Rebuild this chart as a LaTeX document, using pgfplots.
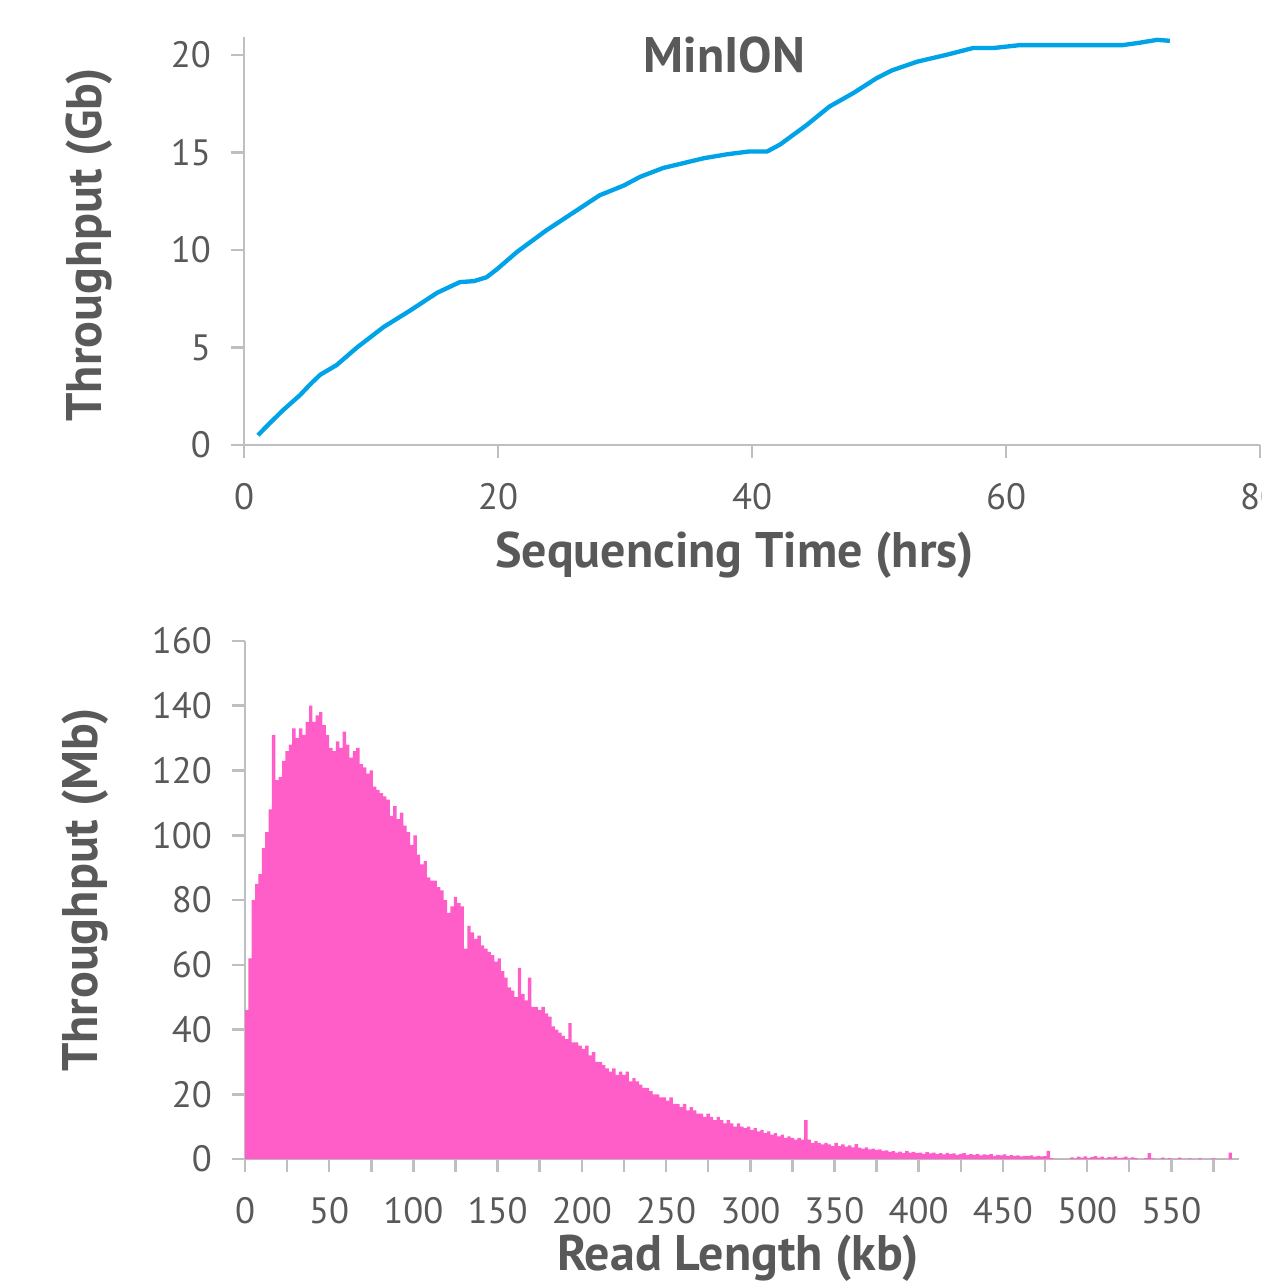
\documentclass[border=0pt]{standalone}
\usepackage{fontspec}
\setmainfont{PT Sans}
\usepackage{pgfplots}
\pgfplotsset{compat=1.18}

\definecolor{axgray}{RGB}{191,191,191}
\definecolor{txtgray}{RGB}{89,89,89}
\definecolor{lineblue}{RGB}{0,163,232}
\definecolor{histpink}{RGB}{255,94,200}

\pgfplotsset{
  minstyle/.style={
    scale only axis,
    axis lines=left,
    axis line style={-, draw=axgray, line width=0.75pt},
    tick style={draw=axgray, line width=0.75pt},
    tick align=outside,
    major tick length=3.8pt,
    minor tick length=3.8pt,
    tick label style={font=\fontsize{11}{13}\selectfont, text=txtgray},
    xticklabel style={yshift=-4.2pt},
    yticklabel style={xshift=-2.6pt},
    label style={font=\bfseries\fontsize{15}{18}\selectfont, text=txtgray},
    /pgf/number format/assume math mode=true,
    clip=false,
  },
}

\begin{document}
\begin{tikzpicture}
\useasboundingbox (0,0) rectangle (378.3pt,384.6pt);
\clip (0,0) rectangle (378.3pt,384.6pt);

% top: cumulative throughput
\begin{axis}[
  minstyle,
  at={(73.2pt,251.1pt)}, anchor=south west,
  width=304.8pt, height=122.3pt,
  xmin=0, xmax=80, ymin=0, ymax=20.9,
  xtick={0,20,...,80}, ytick={0,5,...,20},
  xlabel={Sequencing Time (hrs)},
  ylabel={Throughput (Gb)},
  xlabel style={at={(axis description cs:0.483,-0.27)}, anchor=center},
  ylabel style={at={(axis description cs:-0.152,0.491)}, anchor=center, rotate=0},
]
\addplot[lineblue, line width=1.3pt] coordinates {
  (1.1,0.5) (2.0,1.1) (3.1,1.8) (4.4,2.55) (5.2,3.1) (6.0,3.6) (7.3,4.1)
  (8.9,5.0) (11.0,6.05) (13.1,6.9) (15.2,7.8) (17.0,8.35) (18.1,8.4)
  (19.1,8.6) (19.9,9.0) (21.5,9.9) (23.8,11.0) (25.9,11.9) (28.0,12.8)
  (29.9,13.3) (31.2,13.75) (33.0,14.2) (34.6,14.45) (36.2,14.7) (38.0,14.9)
  (39.8,15.05) (41.2,15.05) (42.2,15.4) (44.3,16.4) (46.1,17.35) (48.0,18.05)
  (49.8,18.8) (51.0,19.2) (53.0,19.65) (55.3,20.0) (57.4,20.35) (59.0,20.35)
  (61.1,20.5) (65.3,20.5) (69.2,20.5) (70.6,20.63) (71.9,20.77) (72.9,20.72)
};
\node[font=\bfseries\fontsize{15}{18}\selectfont, text=txtgray]
  at (axis description cs:0.473,0.957) {MinION};
\end{axis}

% bottom: read length histogram (2 kb bins)
\begin{axis}[
  minstyle,
  at={(73.5pt,36.9pt)}, anchor=south west,
  width=298.1pt, height=155.4pt,
  xmin=0, xmax=590, ymin=0, ymax=160,
  xtick={0,50,...,550}, ytick={0,20,...,160},
  minor xtick={25,75,...,575},
  xlabel={Read Length (kb)},
  ylabel={Throughput (Mb)},
  xlabel style={at={(axis description cs:0.496,-0.191)}, anchor=center},
  ylabel style={at={(axis description cs:-0.161,0.519)}, anchor=center, rotate=0},
]
\addplot[const plot mark left, fill=histpink, draw=none] table[row sep=\\] {
x y\\
0 46\\ 2 62\\ 4 80\\ 6 85\\ 8 88\\ 10 96\\ 12 101\\ 14 108\\ 16 131\\ 18 117\\
20 118\\ 22 123\\ 24 126\\ 26 128\\ 28 133\\ 30 130\\ 32 133\\ 34 131\\ 36 135\\ 38 140\\
40 135\\ 42 137\\ 44 138\\ 46 134\\ 48 131\\ 50 127\\ 52 126\\ 54 129\\ 56 127\\ 58 132\\
60 128\\ 62 124\\ 64 126\\ 66 127\\ 68 122\\ 70 121\\ 72 119\\ 74 120\\ 76 115\\ 78 114\\
80 113\\ 82 112\\ 84 111\\ 86 106\\ 88 109\\ 90 105\\ 92 107\\ 94 103\\ 96 101\\ 98 97\\
100 100\\ 102 94\\ 104 91\\ 106 92\\ 108 87\\ 110 86\\ 112 86\\ 114 84\\ 116 83\\ 118 80\\
120 76\\ 122 78\\ 124 81\\ 126 79\\ 128 78\\ 130 65\\ 132 72\\ 134 70\\ 136 68\\ 138 69\\
140 66\\ 142 65\\ 144 64\\ 146 63\\ 148 61\\ 150 62\\ 152 58\\ 154 56\\ 156 53\\ 158 52\\
160 50\\ 162 59\\ 164 51\\ 166 49\\ 168 56\\ 170 47\\ 172 47\\ 174 46\\ 176 47\\ 178 45\\
180 44\\ 182 41\\ 184 40\\ 186 39\\ 188 38\\ 190 37\\ 192 42\\ 194 36\\ 196 36\\ 198 35\\
200 34\\ 202 35\\ 204 32\\ 206 33\\ 208 30\\ 210 30\\ 212 29\\ 214 28\\ 216 27\\ 218 28\\
220 26\\ 222 27\\ 224 26\\ 226 27\\ 228 24\\ 230 25\\ 232 24\\ 234 23\\ 236 22\\ 238 22\\
240 21\\ 242 20\\ 244 20\\ 246 19\\ 248 19\\ 250 18\\ 252 19\\ 254 17\\ 256 17\\ 258 16\\
260 17\\ 262 15\\ 264 16\\ 266 15\\ 268 14\\ 270 14\\ 272 13\\ 274 14\\ 276 13\\ 278 12\\
280 13\\ 282 12\\ 284 11\\ 286 12\\ 288 11\\ 290 10\\ 292 11\\ 294 10\\ 296 9.5\\ 298 10\\
300 9\\ 302 9.5\\ 304 8.5\\ 306 9\\ 308 8\\ 310 8.5\\ 312 7.5\\ 314 8\\ 316 7\\ 318 7.5\\
320 6.5\\ 322 7\\ 324 6.5\\ 326 6\\ 328 6.5\\ 330 6\\ 332 12\\ 334 6\\ 336 5\\ 338 5.5\\
340 5\\ 342 4.5\\ 344 5\\ 346 4.5\\ 348 4\\ 350 5\\ 352 4\\ 354 4.5\\ 356 3.8\\ 358 4.2\\
360 3.6\\ 362 4.6\\ 364 3.5\\ 366 3.2\\ 368 3.6\\ 370 3\\ 372 3.2\\ 374 2.8\\ 376 3\\ 378 2.5\\
380 2.7\\ 382 2.2\\ 384 2.4\\ 386 2\\ 388 2.3\\ 390 1.8\\ 392 2.5\\ 394 2\\ 396 2.2\\ 398 1.8\\
400 2\\ 402 1.6\\ 404 2.1\\ 406 1.7\\ 408 2\\ 410 1.5\\ 412 1.8\\ 414 1.4\\ 416 1.9\\ 418 1.5\\
420 1.7\\ 422 1.3\\ 424 1.6\\ 426 1.8\\ 428 1.2\\ 430 1.5\\ 432 1.3\\ 434 1.6\\ 436 1.1\\ 438 1.4\\
440 1.2\\ 442 1.5\\ 444 1\\ 446 1.3\\ 448 1.1\\ 450 1.4\\ 452 0.9\\ 454 1.2\\ 456 1\\ 458 1.1\\
460 0.8\\ 462 1\\ 464 0.9\\ 466 1.1\\ 468 0.7\\ 470 1\\ 472 0.8\\ 474 0.9\\ 476 2.5\\ 478 0.3\\
480 0\\ 482 0\\ 484 0\\ 486 0\\ 488 0\\ 490 0.5\\ 492 0.2\\ 494 0.7\\ 496 0.4\\ 498 0.8\\
500 0.3\\ 502 0.6\\ 504 0.9\\ 506 0.4\\ 508 0.7\\ 510 0.2\\ 512 0.6\\ 514 0.5\\ 516 0.8\\ 518 0.3\\
520 0.4\\ 522 0.7\\ 524 0.2\\ 526 0.5\\ 528 0.3\\ 530 0\\ 532 0\\ 534 0.3\\ 536 1.8\\ 538 0.2\\
540 0\\ 542 0\\ 544 0.4\\ 546 0\\ 548 0.3\\ 550 0\\ 552 0\\ 554 0.4\\ 556 0\\ 558 0\\
560 0.2\\ 562 0\\ 564 0\\ 566 0.3\\ 568 0\\ 570 0\\ 572 0\\ 574 0.3\\ 576 0\\ 578 0\\
580 0\\ 582 0\\ 584 2\\ 586 0\\ 588 0\\
} \closedcycle;
\end{axis}
\end{tikzpicture}
\end{document}
